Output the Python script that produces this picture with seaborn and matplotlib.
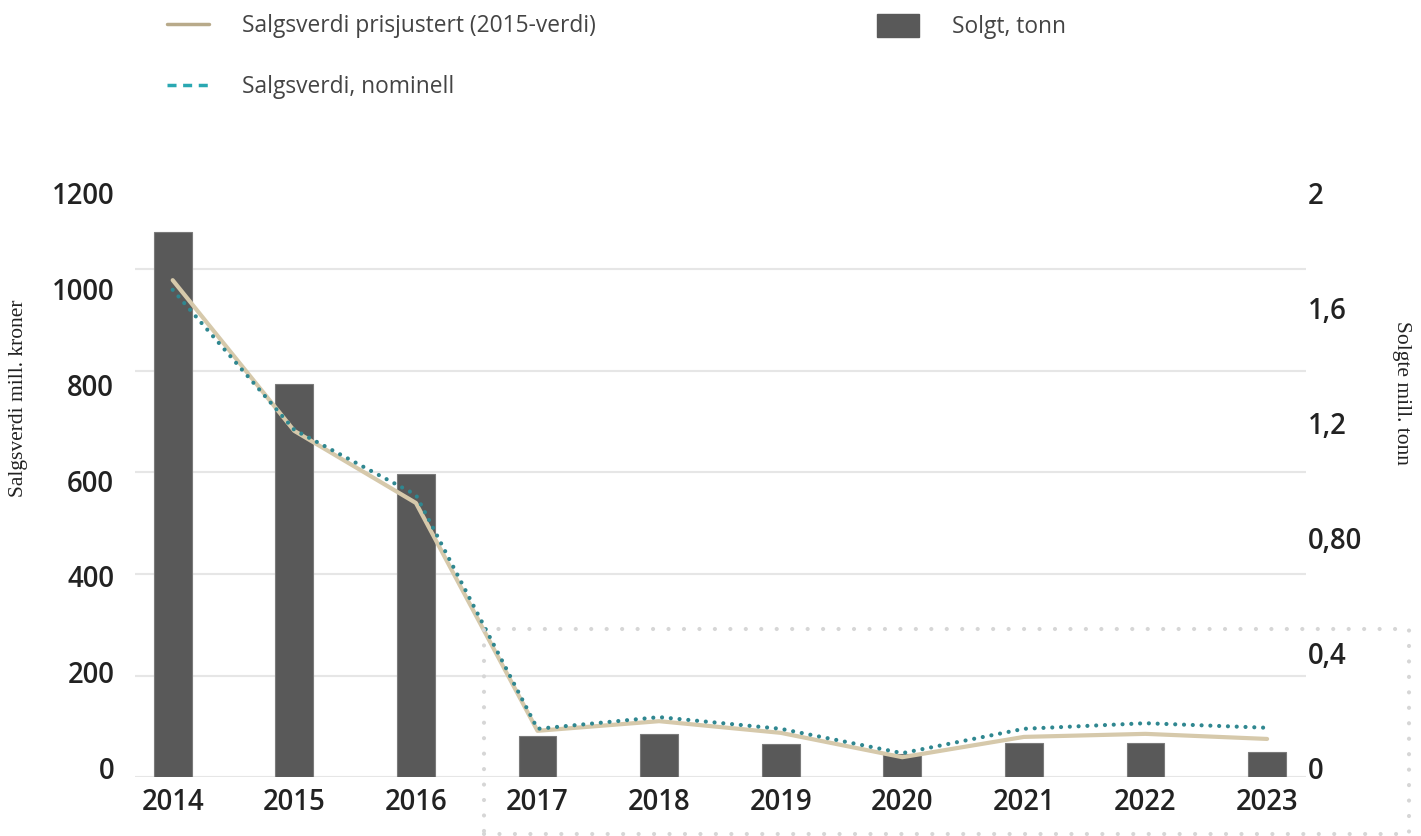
import matplotlib
matplotlib.use("Agg")
import matplotlib.pyplot as plt
import seaborn as sns
import numpy as np
import pandas as pd
from matplotlib.lines import Line2D
from matplotlib.patches import Patch, Rectangle

# ---- data ----
years = ['2014', '2015', '2016', '2017', '2018', '2019', '2020', '2021', '2022', '2023']
salgsverdi_prisjustert = [979, 682, 540, 91, 110, 87, 39, 79, 85, 75]
salgsverdi_nominell = [960, 684, 556, 95, 118, 95, 47, 95, 106, 97]
solgt_mill_tonn = [1.79, 1.29, 0.995, 0.135, 0.141, 0.108, 0.076, 0.112, 0.112, 0.082]

left_tick_labels = ['0', '200', '400', '600', '800', '1000', '1200']
left_tick_values = [0, 200, 400, 600, 800, 1000, 1200]
right_tick_labels = ['0', '0,4', '0,80', '1,2', '1,6', '2']
right_tick_values = [0, 0.4, 0.8, 1.2, 1.6, 2.0]
grid_values = [0, 200, 400, 600, 800, 1000]

leg_pris = 'Salgsverdi prisjustert (2015-verdi)'
leg_nom = 'Salgsverdi, nominell'
leg_solgt = 'Solgt, tonn'
ylabel_left = 'Salgsverdi mill. kroner'
ylabel_right = 'Solgte mill. tonn'

# ---- style ----
sns.set_theme(style='white')
plt.rcParams['font.family'] = ['Open Sans', 'DejaVu Sans']

BAR = '#595959'
TAN = '#d6c9ab'
TAN_LEG = '#b8aa8a'
TEAL = '#2f8790'
TEAL_LEG = '#2aa8b2'
GRID = '#e6e6e6'
TXT = '#222222'
TICKFS = 19.8
TICKW = 'semibold'

df = pd.DataFrame({'pos': np.arange(len(years)), 'year': years,
                   'pris': salgsverdi_prisjustert, 'nom': salgsverdi_nominell,
                   'tonn': solgt_mill_tonn})

fig = plt.figure(figsize=(14.21, 8.36), dpi=100)
L, R = 135 / 1421, 1306 / 1421
B, T = 1 - 777 / 836, 1 - 168 / 836
ax = fig.add_axes([L, B, R - L, T - B])

# bars on right scale
ax2 = ax.twinx()
sns.barplot(data=df, x='pos', y='tonn', ax=ax2, color=BAR, width=0.31,
            saturation=1, edgecolor='#7a7a7a', linewidth=0.8)
ax2.set_ylim(0, 2)
ax2.set_yticks([])
ax2.set_ylabel('')
ax2.set_xlabel('')

# lines on left scale
ax3 = ax.twinx()
sns.lineplot(data=df, x='pos', y='pris', ax=ax3, color=TAN, linewidth=3.0,
             solid_capstyle='round', solid_joinstyle='round')
sns.lineplot(data=df, x='pos', y='nom', ax=ax3, color=TEAL, linewidth=3.0,
             linestyle=(0, (0.01, 2.1)), dash_capstyle='round')
ax3.set_ylim(0, 1200)
ax3.set_yticks([])
ax3.set_ylabel('')
ax3.set_xlabel('')

# gridlines on base axis
ax.set_ylim(0, 1200)
ax.set_yticks(grid_values)
ax.yaxis.grid(True, color=GRID, linewidth=1.5)
ax.tick_params(axis='y', which='both', left=False, right=False, length=0,
               labelleft=False, labelright=False)

for a in (ax, ax2, ax3):
    for s in a.spines.values():
        s.set_visible(False)
    a.tick_params(axis='y', which='both', length=0)

ax.set_xlim(-0.31, len(years) - 1 + 0.32)
ax.set_xticks(np.arange(len(years)))
ax.set_xticklabels(years)
ax.tick_params(axis='x', bottom=False, length=0, pad=8, labelsize=TICKFS, labelcolor=TXT)
for lab in ax.get_xticklabels():
    lab.set_fontweight(TICKW)

# tick-label axes (labels sit on their own evenly spaced scale)
lb = 1 - 768 / 836
lt = 1 - 193 / 836
axl = fig.add_axes([L, lb, R - L, lt - lb])
axl.patch.set_visible(False)
axl.set_xticks([])
axl.set_ylim(0, 1200)
axl.set_yticks(left_tick_values)
axl.set_yticklabels(left_tick_labels)
axr = axl.twinx()
axr.set_ylim(0, 2)
axr.set_yticks(right_tick_values)
axr.set_yticklabels(right_tick_labels)
for a in (axl, axr):
    for s in a.spines.values():
        s.set_visible(False)
axl.tick_params(axis='y', left=False, right=False, length=0, pad=15,
                labelsize=TICKFS, labelcolor=TXT)
axr.tick_params(axis='y', left=False, right=False, length=0, pad=1,
                labelsize=TICKFS, labelcolor=TXT)
for lab in axl.get_yticklabels() + axr.get_yticklabels():
    lab.set_fontweight(TICKW)

# axis titles
fig.text(19 / 1421, 1 - 398 / 836, ylabel_left, rotation=90, ha='center', va='center',
         family='Liberation Serif', fontsize=15.5, color=TXT)
fig.text(1401 / 1421, 1 - 393 / 836, ylabel_right, rotation=270, ha='center', va='center',
         family='Liberation Serif', fontsize=15.5, color=TXT)

# legends
h1 = Line2D([], [], color=TAN_LEG, linewidth=2.5)
h2 = Line2D([], [], color=TEAL_LEG, linewidth=2.5, linestyle=(0, (2.6, 1.9)))
leg1 = fig.legend([h1, h2], [leg_pris, leg_nom], loc='upper left',
                  bbox_to_anchor=(158 / 1421, 1 - 5 / 836), frameon=False,
                  fontsize=16.4, handlelength=1.85, handletextpad=1.45,
                  labelspacing=1.62, labelcolor='#444444', borderaxespad=0)
h3 = Patch(facecolor=BAR, edgecolor=BAR)
leg2 = fig.legend([h3], [leg_solgt], loc='upper left',
                  bbox_to_anchor=(868 / 1421, 1 - 5 / 836), frameon=False,
                  fontsize=16.4, handlelength=1.85, handleheight=1.15,
                  handletextpad=1.45, labelcolor='#444444', borderaxespad=0)

# dotted highlight frame
rect = Rectangle((484 / 1421, 1 - 834 / 836), (1409 - 484) / 1421, (834 - 629) / 836,
                 transform=fig.transFigure, fill=False, edgecolor='#d6d6d6',
                 linewidth=3.0, linestyle=(0, (0.01, 3.7)), capstyle='round', zorder=5)
fig.add_artist(rect)

fig.savefig('out.png', dpi=100, facecolor='white')
